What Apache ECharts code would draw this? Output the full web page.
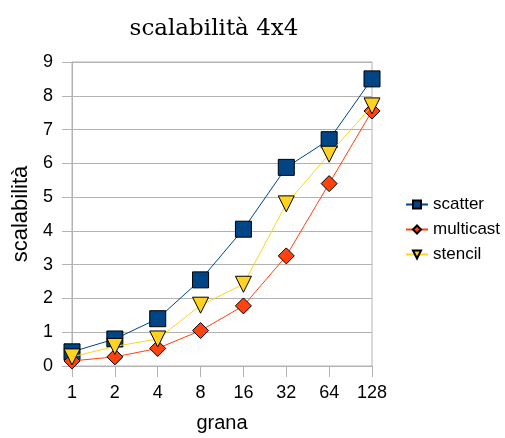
<!DOCTYPE html>
<html>
<head>
<meta charset="utf-8">
<script src="https://cdn.jsdelivr.net/npm/echarts@6/dist/echarts.min.js"></script>
<style>
    html, body { margin: 0; padding: 0; background: #fff; }
    #chart { width: 505px; height: 438px; }
</style>
</head>
<body>
<div id="chart"></div>
<script>
    // categorie asse x (grana)
    const grana = ['1', '2', '4', '8', '16', '32', '64', '128']
    // valori
    const scatter = [0.42, 0.8, 1.4, 2.55, 4.05, 5.88, 6.7, 8.5]
    const multicast = [0.15, 0.27, 0.52, 1.05, 1.78, 3.26, 5.4, 7.55]
    const stencil = [0.27, 0.58, 0.8, 1.8, 2.42, 4.8, 6.27, 7.7]

    const chart = echarts.init(document.getElementById('chart'))
    const sans = 'Liberation Sans'
    const grey = '#b3b3b3'

    const option = {
        animation: false,
        title: {
            text: 'scalabilità 4x4',
            left: 209,
            top: 13,
            textAlign: 'center',
            textStyle: {
                fontFamily: 'DejaVu Serif',
                fontSize: 23,
                fontWeight: 'normal',
                color: '#000'
            }
        },
        grid: {
            left: 72,
            right: 133,
            top: 62,
            bottom: 68,
            show: true,
            borderColor: grey,
            borderWidth: 1
        },
        legend: {
            orient: 'vertical',
            left: 405,
            top: 196,
            padding: 0,
            itemWidth: 22,
            itemHeight: 10,
            itemGap: 8,
            textStyle: { fontFamily: sans, fontSize: 17, color: '#000', overflow: 'none' },
            data: ['scatter', 'multicast', 'stencil']
        },
        xAxis: {
            type: 'category',
            data: grana,
            boundaryGap: false,
            name: 'grana',
            nameLocation: 'middle',
            nameGap: 47,
            nameTextStyle: { fontFamily: sans, fontSize: 20, color: '#000' },
            axisLine: { lineStyle: { color: grey } },
            axisTick: { show: true, length: 11, lineStyle: { color: grey } },
            axisLabel: { fontFamily: sans, fontSize: 18, color: '#000', margin: 18 },
            splitLine: { show: false }
        },
        yAxis: {
            type: 'value',
            min: 0,
            max: 9,
            interval: 1,
            name: 'scalabilità',
            nameLocation: 'middle',
            nameGap: 37,
            nameTextStyle: { fontFamily: sans, fontSize: 22, color: '#000' },
            axisLine: { show: true, lineStyle: { color: grey } },
            axisTick: { show: true, length: 10, lineStyle: { color: grey } },
            axisLabel: { fontFamily: sans, fontSize: 18, color: '#000', margin: 19 },
            splitLine: { lineStyle: { color: grey } }
        },
        series: [{
            name: 'scatter',
            type: 'line',
            data: scatter,
            symbol: 'rect',
            symbolSize: 16,
            lineStyle: { color: '#004586', width: 1 },
            itemStyle: { color: '#004586', borderColor: '#000', borderWidth: 1 },
            z: 3
        }, {
            name: 'multicast',
            type: 'line',
            data: multicast,
            symbol: 'diamond',
            symbolSize: 16,
            lineStyle: { color: '#ff420e', width: 1 },
            itemStyle: { color: '#ff420e', borderColor: '#000', borderWidth: 1 },
            z: 4
        }, {
            name: 'stencil',
            type: 'line',
            data: stencil,
            symbol: 'triangle',
            symbolRotate: 180,
            symbolSize: 16,
            lineStyle: { color: '#ffd320', width: 1 },
            itemStyle: { color: '#ffd320', borderColor: '#000', borderWidth: 1 },
            z: 5
        }]
    }
    chart.setOption(option)
</script>
</body>
</html>
